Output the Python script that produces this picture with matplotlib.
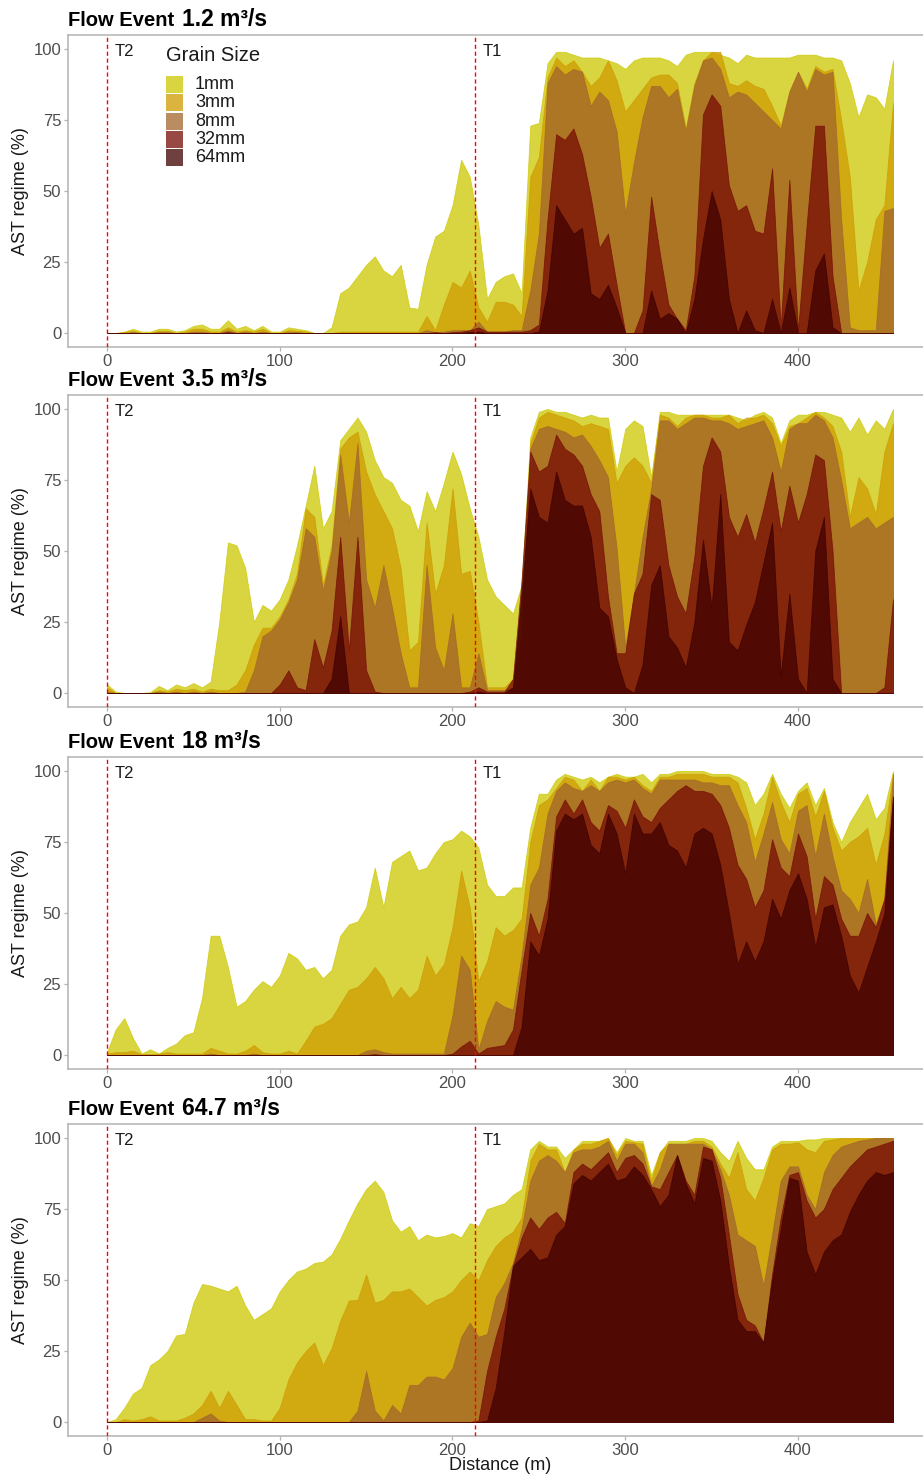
import numpy as np
import matplotlib
matplotlib.use("Agg")
import matplotlib.pyplot as plt
from matplotlib.patches import Rectangle

plt.rcParams['font.family'] = ['Liberation Sans', 'DejaVu Sans']

# ---------------- data ----------------
distance = np.arange(0, 456, 5)          # m, sampling along the reach
grain_sizes = ["1mm", "3mm", "8mm", "32mm", "64mm"]
flow_events = ["1.2", "3.5", "18", "64.7"]
transect_names = ["T2", "T1"]
transect_pos = [0, 213]

p1_1mm = [0, 0, 0.5, 1.5, 0.5, 0.5, 1.5, 1.5, 0.5, 1,
          2.5, 3, 1.5, 1.5, 4.5, 1.5, 2.5, 1, 2.5, 0.5,
          0.5, 2, 1.5, 1, 0, 0, 2, 14, 16, 20,
          24, 27, 22, 20, 24, 9, 8.5, 24, 34, 36,
          45, 61, 55, 38, 12, 18, 20, 21, 14, 73,
          74, 95, 99, 99, 98, 97, 97, 97, 96, 95,
          93, 96, 97, 97, 97, 96, 94, 98, 99, 99,
          99, 98, 97, 95, 98, 97, 97, 97, 97, 97,
          98, 98, 98, 97, 97, 96, 88, 76, 84, 83,
          79, 96]
p1_3mm = [0, 0, 0.3, 0.8, 0, 0, 0.8, 0.8, 0, 0.5,
          1.5, 1.5, 0.5, 0.5, 2, 0.5, 1, 0.5, 1.5, 0,
          0, 1, 0.8, 0.5, 0, 0, 0, 0.5, 0.5, 0.5,
          0.5, 0.5, 0.5, 0.5, 0.5, 0.5, 0.5, 6, 1, 10,
          18, 16, 22, 9, 4, 11, 11, 10, 6, 55,
          62, 90, 97, 94, 96, 92, 87, 90, 96, 89,
          78, 82, 86, 90, 91, 91, 88, 72, 88, 96,
          99, 99, 88, 87, 89, 87, 86, 80, 73, 85,
          92, 86, 94, 92, 93, 75, 55, 15, 25, 40,
          45, 81]
p1_8mm = [0, 0, 0, 0.3, 0, 0, 0.3, 0.3, 0, 0,
          0.5, 0.5, 0, 0, 1, 0, 0.5, 0, 0.5, 0,
          0, 0.3, 0.3, 0, 0, 0, 0, 0, 0, 0,
          0, 0, 0, 0, 0, 0, 0, 1, 0.3, 0.5,
          1, 1, 1, 4, 0.5, 0.5, 0.5, 1, 1, 15,
          35, 88, 94, 91, 93, 92, 80, 85, 82, 71,
          42, 60, 76, 87, 87, 83, 86, 71, 87, 96,
          97, 93, 83, 85, 84, 81, 78, 75, 72, 85,
          92, 85, 93, 91, 92, 40, 2, 1, 1, 1,
          43, 44]
p1_32mm = [0, 0, 0, 0, 0, 0, 0, 0, 0, 0,
           0, 0, 0, 0, 0.3, 0, 0, 0, 0, 0,
           0, 0, 0, 0, 0, 0, 0, 0, 0, 0,
           0, 0, 0, 0, 0, 0, 0, 0, 0.3, 0,
           0.3, 0.5, 1, 2, 0.5, 0.5, 0.5, 0.5, 0.5, 1,
           3, 40, 70, 68, 72, 63, 48, 30, 35, 17,
           0, 0, 8, 48, 28, 10, 5, 1, 20, 77,
           84, 80, 52, 43, 45, 36, 35, 58, 2, 54,
           1, 38, 73, 73, 20, 0, 0, 0, 0, 0,
           0, 0]
p1_64mm = [0, 0, 0, 0, 0, 0, 0, 0, 0, 0,
           0, 0, 0, 0, 0, 0, 0, 0, 0, 0,
           0, 0, 0, 0, 0, 0, 0, 0, 0, 0,
           0, 0, 0, 0, 0, 0, 0, 0, 0, 0,
           0, 0, 0.3, 0.5, 0, 0, 0, 0, 0, 0,
           0.5, 15, 45, 40, 35, 37, 14, 12, 17, 9,
           0, 0, 0, 15, 5, 7, 5, 0, 12, 33,
           50, 40, 12, 0, 8, 1, 0, 12, 0, 16,
           0, 0, 22, 28, 2, 0, 0, 0, 0, 0,
           0, 0]

p2_1mm = [3, 0.5, 0, 0, 0, 0.3, 2.5, 1, 3, 2,
          3.5, 2, 4, 25, 53, 52, 44, 25, 31, 29,
          33, 40, 52, 66, 80, 58, 64, 89, 93, 97,
          92, 82, 76, 74, 68, 66, 57, 71, 64, 74,
          85, 77, 65, 55, 40, 34, 31, 28, 38, 90,
          99, 100, 99, 99, 98, 97, 98, 97, 97, 78,
          93, 96, 94, 76, 99, 99, 98, 98, 98, 98,
          98, 98, 98, 97, 96, 98, 99, 97, 88, 96,
          98, 98, 99, 99, 98, 97, 92, 97, 91, 96,
          93, 100]
p2_3mm = [2, 0, 0, 0, 0, 0, 1, 0.5, 1.5, 1,
          1.5, 0.5, 1.5, 1, 1, 3, 8, 17, 23, 23,
          27, 33, 42, 65, 62, 38, 52, 86, 90, 92,
          78, 70, 64, 58, 44, 15, 18, 60, 35, 45,
          72, 42, 43, 25, 2, 2, 2, 5, 24, 88,
          97, 99, 98, 97, 96, 94, 95, 94, 93, 74,
          80, 83, 80, 74, 98, 97, 94, 97, 98, 98,
          97, 97, 98, 95, 97, 97, 98, 95, 87, 94,
          95, 97, 99, 97, 94, 85, 62, 76, 72, 63,
          85, 95]
p2_8mm = [0.5, 0, 0, 0, 0, 0, 0.5, 0, 0.5, 0,
          0.5, 0, 0.5, 0, 0, 0, 0.5, 8, 20, 22,
          26, 32, 40, 58, 55, 36, 50, 84, 60, 88,
          40, 30, 45, 30, 14, 2, 2, 45, 16, 8,
          28, 2, 2, 14, 1, 1, 1, 2, 19, 86,
          93, 94, 93, 92, 90, 91, 87, 82, 76, 51,
          16, 35, 55, 72, 96, 96, 93, 95, 97, 97,
          96, 96, 95, 93, 94, 95, 96, 90, 78, 93,
          95, 95, 98, 96, 90, 75, 58, 60, 62, 58,
          60, 62]
p2_32mm = [0, 0, 0, 0, 0, 0, 0, 0, 0, 0,
           0, 0, 0, 0, 0, 0, 0, 0, 0, 0,
           3, 8, 2, 1, 19, 9, 22, 55, 15, 55,
           8, 0.5, 0, 0, 0, 0, 0, 0, 0, 0,
           0, 0, 0.5, 2, 0.5, 0.5, 0.5, 5, 40, 85,
           78, 80, 91, 86, 84, 80, 70, 64, 34, 14,
           14, 35, 42, 70, 68, 45, 34, 28, 48, 80,
           90, 85, 62, 55, 63, 53, 65, 78, 57, 73,
           60, 70, 84, 82, 50, 0, 0, 0, 0, 0,
           2, 33]
p2_64mm = [0, 0, 0, 0, 0, 0, 0, 0, 0, 0,
           0, 0, 0, 0, 0, 0, 0, 0, 0, 0,
           0, 0, 0, 0, 0, 0, 5, 27, 0, 0,
           0, 0, 0, 0, 0, 0, 0, 0, 0, 0,
           0, 0, 0, 0.5, 0, 0, 0, 2, 35, 72,
           62, 60, 78, 68, 66, 66, 55, 30, 27, 12,
           2, 0, 10, 38, 45, 20, 16, 9, 25, 54,
           30, 70, 18, 15, 24, 32, 46, 60, 6, 35,
           5, 0, 50, 62, 5, 0, 0, 0, 0, 0,
           0, 0]

p3_1mm = [1, 9, 13, 6, 0.5, 2, 0.5, 2.5, 4, 7,
          8, 20, 42, 42, 31, 17, 19, 23, 26, 24,
          28, 36, 34, 30, 31, 27, 30, 42, 46, 47,
          52, 66, 52, 68, 70, 72, 65, 66, 71, 75,
          76, 79, 77, 73, 60, 56, 56, 59, 59, 80,
          92, 92, 97, 99, 98, 97, 98, 96, 98, 99,
          98, 98, 99, 96, 99, 99, 100, 100, 100, 100,
          99, 99, 99, 98, 96, 88, 92, 99, 92, 87,
          93, 96, 88, 94, 82, 75, 82, 87, 92, 83,
          87, 100]
p3_3mm = [0.5, 1, 1, 1.5, 0.3, 0.3, 0.5, 1, 0.5, 0.5,
          0.5, 0.5, 2.5, 1.5, 0.5, 0.5, 1.5, 3.5, 1, 0.5,
          0.5, 1.5, 0.5, 5, 10, 11, 13, 18, 23, 24,
          27, 31, 27, 20, 24, 20, 23, 35, 28, 32,
          45, 65, 52, 26, 33, 45, 42, 44, 48, 75,
          88, 90, 94, 98, 97, 93, 97, 93, 98, 98,
          97, 98, 95, 93, 98, 98, 99, 99, 99, 99,
          98, 98, 98, 96, 87, 76, 85, 98, 89, 82,
          92, 94, 84, 93, 80, 72, 75, 77, 80, 67,
          78, 99]
p3_8mm = [0, 0, 0, 0, 0, 0, 0, 0, 0, 0,
          0, 0, 0.5, 0, 0, 0, 0, 0.5, 0, 0,
          0, 0, 0, 0, 0, 0, 0, 0, 0, 0,
          1.5, 2, 1, 0.5, 0.5, 0.5, 0.5, 0.5, 0.5, 0.5,
          14, 35, 30, 2, 12, 19, 17, 16, 35, 60,
          66, 85, 93, 96, 94, 93, 95, 93, 96, 97,
          96, 97, 94, 92, 97, 97, 97, 97, 97, 96,
          96, 95, 95, 88, 82, 68, 78, 89, 76, 71,
          86, 88, 70, 85, 70, 58, 55, 50, 62, 46,
          55, 99]
p3_32mm = [0, 0, 0, 0, 0, 0, 0, 0, 0, 0,
           0, 0, 0, 0, 0, 0, 0, 0, 0, 0,
           0, 0, 0, 0, 0, 0, 0, 0, 0, 0,
           0, 0.3, 0, 0, 0, 0, 0, 0, 0, 0,
           0.5, 3, 5, 0.5, 2.5, 3, 3.5, 9, 30, 50,
           42, 55, 84, 90, 85, 90, 82, 79, 88, 86,
           80, 90, 84, 82, 87, 90, 93, 95, 93, 93,
           92, 88, 80, 67, 62, 52, 58, 76, 66, 63,
           78, 70, 48, 63, 60, 48, 42, 42, 50, 45,
           55, 91]
p3_64mm = [0, 0, 0, 0, 0, 0, 0, 0, 0, 0,
           0, 0, 0, 0, 0, 0, 0, 0, 0, 0,
           0, 0, 0, 0, 0, 0, 0, 0, 0, 0,
           0, 0, 0, 0, 0, 0, 0, 0, 0, 0,
           0, 0, 0, 0, 0, 0, 0, 0, 10, 40,
           35, 48, 79, 85, 83, 85, 74, 71, 85, 78,
           64, 85, 78, 78, 82, 74, 72, 66, 78, 80,
           78, 67, 50, 32, 40, 33, 40, 55, 48, 58,
           64, 55, 38, 52, 53, 42, 28, 22, 31, 40,
           50, 91]

p4_1mm = [0, 1, 5, 10, 12, 20, 22, 25, 30.5, 31,
          42, 48.6, 48, 47, 46, 48, 41, 36, 38, 40,
          46, 50, 53, 54, 56, 56.5, 59, 64.5, 71, 77,
          82, 85, 81, 71, 67, 69, 64, 66, 65, 65.5,
          66.5, 65, 70, 69, 75, 76, 77, 80, 82, 96,
          99, 97, 97, 93, 96, 99, 99, 99, 100, 95,
          100, 99, 99, 87, 95, 99, 99, 99, 100, 100,
          99, 95, 92, 99, 93, 89, 89, 97, 99, 99,
          99, 99.5, 99.5, 100, 100, 100, 100, 100, 100, 100,
          100, 100]
p4_3mm = [0, 0, 1, 0.5, 1, 2, 0.5, 0.5, 0.5, 1.5,
          3, 6, 11, 5, 11, 6, 1, 1, 0.5, 0.5,
          5, 15, 21, 25, 28, 20, 26, 35.7, 42.8, 43,
          52, 42, 43, 46, 46, 47, 44, 41, 43, 44,
          46, 50, 53, 50, 57, 62, 65, 67, 72, 92,
          98, 96, 96, 88, 96, 98, 98, 99, 100, 94,
          99, 98.5, 98, 85, 95, 98, 98, 98, 99, 99,
          97, 91, 86, 95, 82, 78, 86, 96, 98, 98,
          98.5, 96, 95, 99, 99.5, 100, 100, 100, 100, 100,
          100, 100]
p4_8mm = [0, 0, 0, 0, 0, 0, 0, 0, 0, 0,
          0, 1.5, 3, 0.5, 0, 0, 0, 0, 0, 0,
          0, 0, 0, 0, 0, 0, 0, 0, 0, 4,
          18, 4, 0.5, 6, 3, 13, 13, 16, 16, 15,
          19, 30, 35, 30, 31, 44, 49, 56, 68, 85,
          92, 94, 92, 88, 95, 96, 96, 97, 99, 92,
          98, 98, 95, 83, 89, 98, 98, 98, 98, 98,
          96, 89, 80, 66, 64, 62, 48, 66, 85, 90,
          90, 80, 75, 88, 94, 97, 98, 99, 99.5, 100,
          100, 100]
p4_32mm = [0, 0, 0, 0, 0, 0, 0, 0, 0, 0,
           0, 0, 0, 0, 0, 0, 0, 0, 0, 0,
           0, 0, 0, 0, 0, 0, 0, 0, 0, 0,
           0, 0, 0, 0, 0, 0, 0, 0, 0, 0,
           0, 0, 0, 0.5, 18, 30, 40, 55, 65, 72,
           68, 72, 74, 70, 88, 91, 89, 92, 95, 88,
           93, 94, 91, 83, 82, 88, 94, 85, 80, 97,
           96, 86, 66, 45, 36, 34, 28, 52, 72, 87,
           88, 78, 72, 75, 82, 86, 90, 93, 96, 97,
           98, 99]
p4_64mm = [0, 0, 0, 0, 0, 0, 0, 0, 0, 0,
           0, 0, 0, 0, 0, 0, 0, 0, 0, 0,
           0, 0, 0, 0, 0, 0, 0, 0, 0, 0,
           0, 0, 0, 0, 0, 0, 0, 0, 0, 0,
           0, 0, 0, 0, 0.5, 12, 32, 55, 58, 61,
           57, 58, 66, 69, 84, 87, 85, 88, 91, 85,
           86, 90, 87, 82, 76, 80, 94, 84, 77, 93,
           92, 78, 55, 36, 32, 32, 28, 50, 68, 86,
           85, 60, 52, 60, 64, 66, 74, 80, 85, 88,
           87, 88]

panels = [
    [p1_1mm, p1_3mm, p1_8mm, p1_32mm, p1_64mm],
    [p2_1mm, p2_3mm, p2_8mm, p2_32mm, p2_64mm],
    [p3_1mm, p3_3mm, p3_8mm, p3_32mm, p3_64mm],
    [p4_1mm, p4_3mm, p4_8mm, p4_32mm, p4_64mm],
]
for pan in panels:
    for s in pan:
        assert len(s) == len(distance), len(s)

# ---------------- style ----------------
fill_colors = ["#ccc800", "#cf9b00", "#a2662c", "#760c04", "#3f0000"]
AREA_ALPHA = 0.75
BORDER = "#b3b3b3"
TICKTXT = "#4d4d4d"

W, H = 923, 1479
fig = plt.figure(figsize=(W / 100, H / 100), dpi=100)
renderer = fig.canvas.get_renderer()

panel_tops = [34.8, 394.8, 756.8, 1123.8]
panel_h = 312.4
ax_left_px, ax_w_px = 67.7, 864.6

def fx(px):
    return px / W

def fy(py):
    return 1 - py / H

for k, (top, series) in enumerate(zip(panel_tops, panels)):
    ax = fig.add_axes([fx(ax_left_px), fy(top + panel_h), ax_w_px / W, panel_h / H])
    for vals, col in zip(series, fill_colors):
        ax.fill_between(distance, 0, vals, facecolor=col, edgecolor=col,
                        alpha=AREA_ALPHA, linewidth=0.6, zorder=2)
    for name, pos in zip(transect_names, transect_pos):
        ax.axvline(pos, color="red", linestyle=(0, (3.0, 2.0)), linewidth=1.0, zorder=4)
        ax.text(pos + 10, 99, name, ha="center", va="center", fontsize=12,
                color="#1a1a1a", zorder=5)
    ax.set_xlim(-22.75, 477.75)
    ax.set_ylim(-5, 105)
    ax.set_xticks([0, 100, 200, 300, 400])
    ax.set_yticks([0, 25, 50, 75, 100])
    for sp in ax.spines.values():
        sp.set_color(BORDER)
        sp.set_linewidth(1.1)
    ax.tick_params(axis="both", colors=BORDER, labelcolor=TICKTXT, labelsize=12,
                   length=3.2, width=0.9, pad=1.5)
    ax.set_facecolor("white")

    # y label
    fig.text(fx(21), fy(top + panel_h / 2), "AST regime (%)", rotation=90,
             ha="center", va="center", fontsize=13, color="#1a1a1a")

    # title
    t1 = fig.text(fx(68.5), fy(top - 8.5), "Flow Event", fontsize=14.5,
                  fontweight="bold", ha="left", va="baseline", color="black")
    bb = t1.get_window_extent(renderer=renderer)
    fig.text((bb.x1 + 7.5) / W, fy(top - 8.5),
             flow_events[k] + " m\u00b3/s", fontsize=16.5, fontweight="bold",
             ha="left", va="baseline", color="black")

# x axis title
fig.text(fx(500), fy(1466), "Distance (m)", ha="center", va="center",
         fontsize=13, color="#1a1a1a")

# legend (panel 1)
fig.text(fx(166), fy(55.5), "Grain Size", ha="left", va="center", fontsize=14.5,
         color="#1a1a1a")
row0, row_step = 84.7, 18.25
for i, (lab, col) in enumerate(zip(grain_sizes, fill_colors)):
    yc = row0 + i * row_step
    rect = Rectangle((fx(166), fy(yc + 8.5)), 16.5 / W, 17 / H,
                     transform=fig.transFigure, facecolor=col, alpha=AREA_ALPHA,
                     edgecolor="none")
    fig.add_artist(rect)
    fig.text(fx(195), fy(yc), lab, ha="left", va="center", fontsize=13,
             color="#1a1a1a")

fig.savefig("out.png", dpi=100, facecolor="white")
